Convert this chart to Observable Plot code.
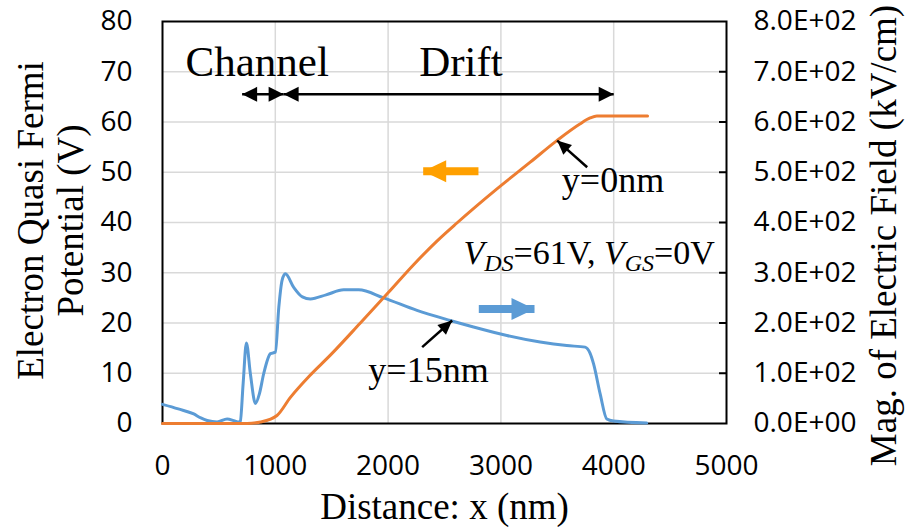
<!DOCTYPE html>
<html><head><meta charset="utf-8">
<script src="https://cdn.jsdelivr.net/npm/d3@7"></script>
<script src="https://cdn.jsdelivr.net/npm/@observablehq/plot@0.6"></script>
<style>
html,body{margin:0;padding:0;background:#fff;}
</style></head>
<body><div id="chart"></div>
<script>
// ---- data ----
// Electron quasi-Fermi potential at y=0nm (left axis, V)
const potX = [0, 750, 870, 1015, 1134, 1300, 1488, 1754, 2000, 2226, 2433, 2610, 2965, 3260, 3496, 3700, 3791, 3850, 4300];
const potV = [0, 0, 0.3, 1.6, 5.2, 9.4, 13.6, 20.0, 26.0, 31.6, 36.3, 39.9, 46.7, 52.0, 56.3, 59.6, 60.8, 61.2, 61.2];
// Magnitude of electric field at y=15nm (right axis, kV/cm)
const fieldX = [0, 140, 277, 340, 396, 484, 573, 640, 676, 690, 715, 744, 779, 824, 860, 897, 957, 1001, 1031, 1060, 1089, 1163, 1240, 1311, 1450, 1606, 1739, 1960, 2256, 2551, 2757, 3053, 3348, 3584, 3747, 3790, 3821, 3880, 3939, 3998, 4293];
const fieldE = [38, 29, 19, 11, 6, 3, 9, 5, 3, 5, 80, 160, 99, 40, 60, 99, 139, 142, 231, 285, 298, 271, 252, 248, 256, 266, 266, 250, 225, 205, 192, 175, 162, 155, 152, 140, 119, 59, 9, 5, 1];

// tick values
const xTicks = [0, 1000, 2000, 3000, 4000, 5000];
const leftTicks = [0, 10, 20, 30, 40, 50, 60, 70, 80];
const rightTicks = [0, 100, 200, 300, 400, 500, 600, 700, 800];

// titles
const xTitle = "Distance: x (nm)";
const leftTitle = "Electron Quasi Fermi\nPotential (V)";
const rightTitle = "Mag. of Electric Field (kV/cm)";

// annotation anchors (data units)
const regionLabels = ["Channel", "Drift"];
const regionLabelX = [840, 2646];
const regionLabelY = 69.2;
const regionSpans = [[706, 1074], [1074, 4000]];
const regionSpanY = 65.5;
const curveLabels = ["y=0nm", "y=15nm"];
const curveLabelX = [3994, 2358];
const curveLabelY = [46.0, 8.2];
const pointerTail = [[3765, 51.0], [2302, 15.2]];
const pointerTip = [[3499, 56.3], [2568, 20.5]];
const biasLabel = "VDS=61V, VGS=0V";
const biasLabelPos = [2668, 31.8];
const axisArrowTail = [[2801, 50.2], [2804, 22.8]];
const axisArrowTip = [[2311, 50.2], [3298, 22.8]];

// ---- layout ----
const W = 912, H = 527, mL = 162, mR = 186, mT = 21, mB = 104;
const xMax = xTicks[xTicks.length - 1], yMax = leftTicks[leftTicks.length - 1];
const ratio = rightTicks[rightTicks.length - 1] / yMax;
const kx = (W - mL - mR) / xMax, ky = (H - mT - mB) / yMax;
const angle = (a, b) => Math.atan2(-(b[1] - a[1]) * ky, (b[0] - a[0]) * kx) * 180 / Math.PI;

const ORANGE = "#ED7D31", BLUE = "#5B9BD5", ARROW_ORANGE = "#FFA000";
const SERIF = "Liberation Serif";

const potential = potX.map((x, i) => ({x, v: potV[i]}));
const field = fieldX.map((x, i) => ({x, e: fieldE[i]}));

const fmtE = v => {
  const [m, e] = v.toExponential(1).split("e");
  return (m + "E" + e[0] + e.slice(1).padStart(2, "0")).toUpperCase();
};

// arrowhead symbol: tip at origin, pointing right (+x)
const head = (L, Wd) => ({draw(ctx) { ctx.moveTo(0, 0); ctx.lineTo(-L, -Wd / 2); ctx.lineTo(-L, Wd / 2); ctx.closePath(); }});

const spanLinks = regionSpans.map(([a, b]) => ({x1: a, x2: b}));
const spanHeads = regionSpans.flatMap(([a, b]) => [{x: a, rot: 180}, {x: b, rot: 0}]);
const pointers = pointerTail.map((t, i) => ({t, p: pointerTip[i], rot: angle(t, pointerTip[i])}));
const bigArrows = axisArrowTail.map((t, i) => ({t, p: axisArrowTip[i], rot: angle(t, axisArrowTip[i]), color: i === 0 ? ARROW_ORANGE : BLUE}));

const plot = Plot.plot({
  width: W, height: H,
  marginLeft: mL, marginRight: mR, marginTop: mT, marginBottom: mB,
  style: {fontFamily: "Open Sans", fontSize: "28px", color: "black", background: "white"},
  x: {domain: [0, xMax]},
  y: {domain: [0, yMax]},
  marks: [
    Plot.gridX(xTicks.slice(1, -1), {stroke: "#d9d9d9", strokeOpacity: 1, strokeWidth: 1.5}),
    Plot.gridY(leftTicks.slice(1, -1), {stroke: "#d9d9d9", strokeOpacity: 1, strokeWidth: 1.5}),
    Plot.axisX(xTicks, {anchor: "bottom", tickSize: 0, tickPadding: 32, label: null, fontSize: 28, tickFormat: d => String(d)}),
    Plot.axisY(leftTicks, {anchor: "left", tickSize: 0, tickPadding: 30, label: null, fontSize: 28, tickFormat: d => String(d)}),
    Plot.axisY(rightTicks.map(d => d / ratio), {anchor: "right", tickSize: 0, tickPadding: 27, label: null, fontSize: 28, tickFormat: d => fmtE(d * ratio)}),
    Plot.ruleY(rightTicks.slice(1, -1).map(d => d / ratio), {y: d => d, x1: xMax, x2: xMax - 7 / kx, stroke: "black", strokeWidth: 2}),
    Plot.frame({stroke: "black", strokeWidth: 2}),
    Plot.line(field, {x: "x", y: d => d.e / ratio, stroke: BLUE, strokeWidth: 3, curve: "monotone-x"}),
    Plot.line(potential, {x: "x", y: "v", stroke: ORANGE, strokeWidth: 3, curve: "monotone-x"}),
    // region span arrows
    Plot.link(spanLinks, {x1: "x1", x2: "x2", y1: regionSpanY, y2: regionSpanY, stroke: "black", strokeWidth: 2.5}),
    Plot.dot(spanHeads, {x: "x", y: regionSpanY, rotate: "rot", r: 8, symbol: head(15, 15), fill: "black", stroke: "none"}),
    // thick axis-direction arrows
    Plot.link(bigArrows, {x1: d => d.t[0], y1: d => d.t[1], x2: d => d.p[0], y2: d => d.p[1], stroke: d => d.color, strokeWidth: 8}),
    Plot.dot(bigArrows, {x: d => d.p[0], y: d => d.p[1], rotate: "rot", r: 10, symbol: head(23, 22), fill: d => d.color, stroke: "none"}),
    // pointer arrows
    Plot.link(pointers, {x1: d => d.t[0], y1: d => d.t[1], x2: d => d.p[0], y2: d => d.p[1], stroke: "black", strokeWidth: 2.5}),
    Plot.dot(pointers, {x: d => d.p[0], y: d => d.p[1], rotate: "rot", r: 7, symbol: head(14, 13), fill: "black", stroke: "none"}),
    // texts
    Plot.text(regionLabels, {x: (d, i) => regionLabelX[i], y: regionLabelY, text: d => d, fontFamily: SERIF, fontSize: 43, textAnchor: "middle", lineAnchor: "bottom"}),
    Plot.text(curveLabels, {x: (d, i) => curveLabelX[i], y: (d, i) => curveLabelY[i], text: d => d, fontFamily: SERIF, fontSize: 36, textAnchor: "middle", lineAnchor: "bottom"}),
    Plot.text([biasLabel], {x: biasLabelPos[0], y: biasLabelPos[1], text: d => d, fontFamily: SERIF, fontSize: 34, textAnchor: "start", lineAnchor: "bottom"}),
    // axis titles
    Plot.text([xTitle], {frameAnchor: "bottom", dy: 95, text: d => d, fontFamily: SERIF, fontSize: 37, textAnchor: "middle", lineAnchor: "bottom"}),
    Plot.text([leftTitle], {frameAnchor: "left", dx: -80, dy: -2, rotate: -90, lineHeight: 40 / 37, text: d => d, fontFamily: SERIF, fontSize: 37, textAnchor: "middle", lineAnchor: "bottom"}),
    Plot.text([rightTitle], {frameAnchor: "right", dx: 169, dy: 13, rotate: -90, text: d => d, fontFamily: SERIF, fontSize: 37, textAnchor: "middle", lineAnchor: "bottom"})
  ]
});

// bias label with italic V and subscripts
const SVGNS = "http://www.w3.org/2000/svg";
for (const el of Array.from(plot.querySelectorAll("text")).filter(el => el.textContent === biasLabel)) {
  el.textContent = "";
  const parts = [["V", true, null, 0], ["DS", true, 24, 7], ["=61V, ", false, null, -7], ["V", true, null, 0], ["GS", true, 24, 7], ["=0V", false, null, -7]];
  for (const [s, it, fs, dy] of parts) {
    const ts = document.createElementNS(SVGNS, "tspan");
    ts.textContent = s;
    if (it) ts.setAttribute("font-style", "italic");
    if (fs) ts.setAttribute("font-size", fs);
    if (dy) ts.setAttribute("dy", dy);
    el.appendChild(ts);
  }
}

document.getElementById("chart").appendChild(plot);
</script>
</body></html>
